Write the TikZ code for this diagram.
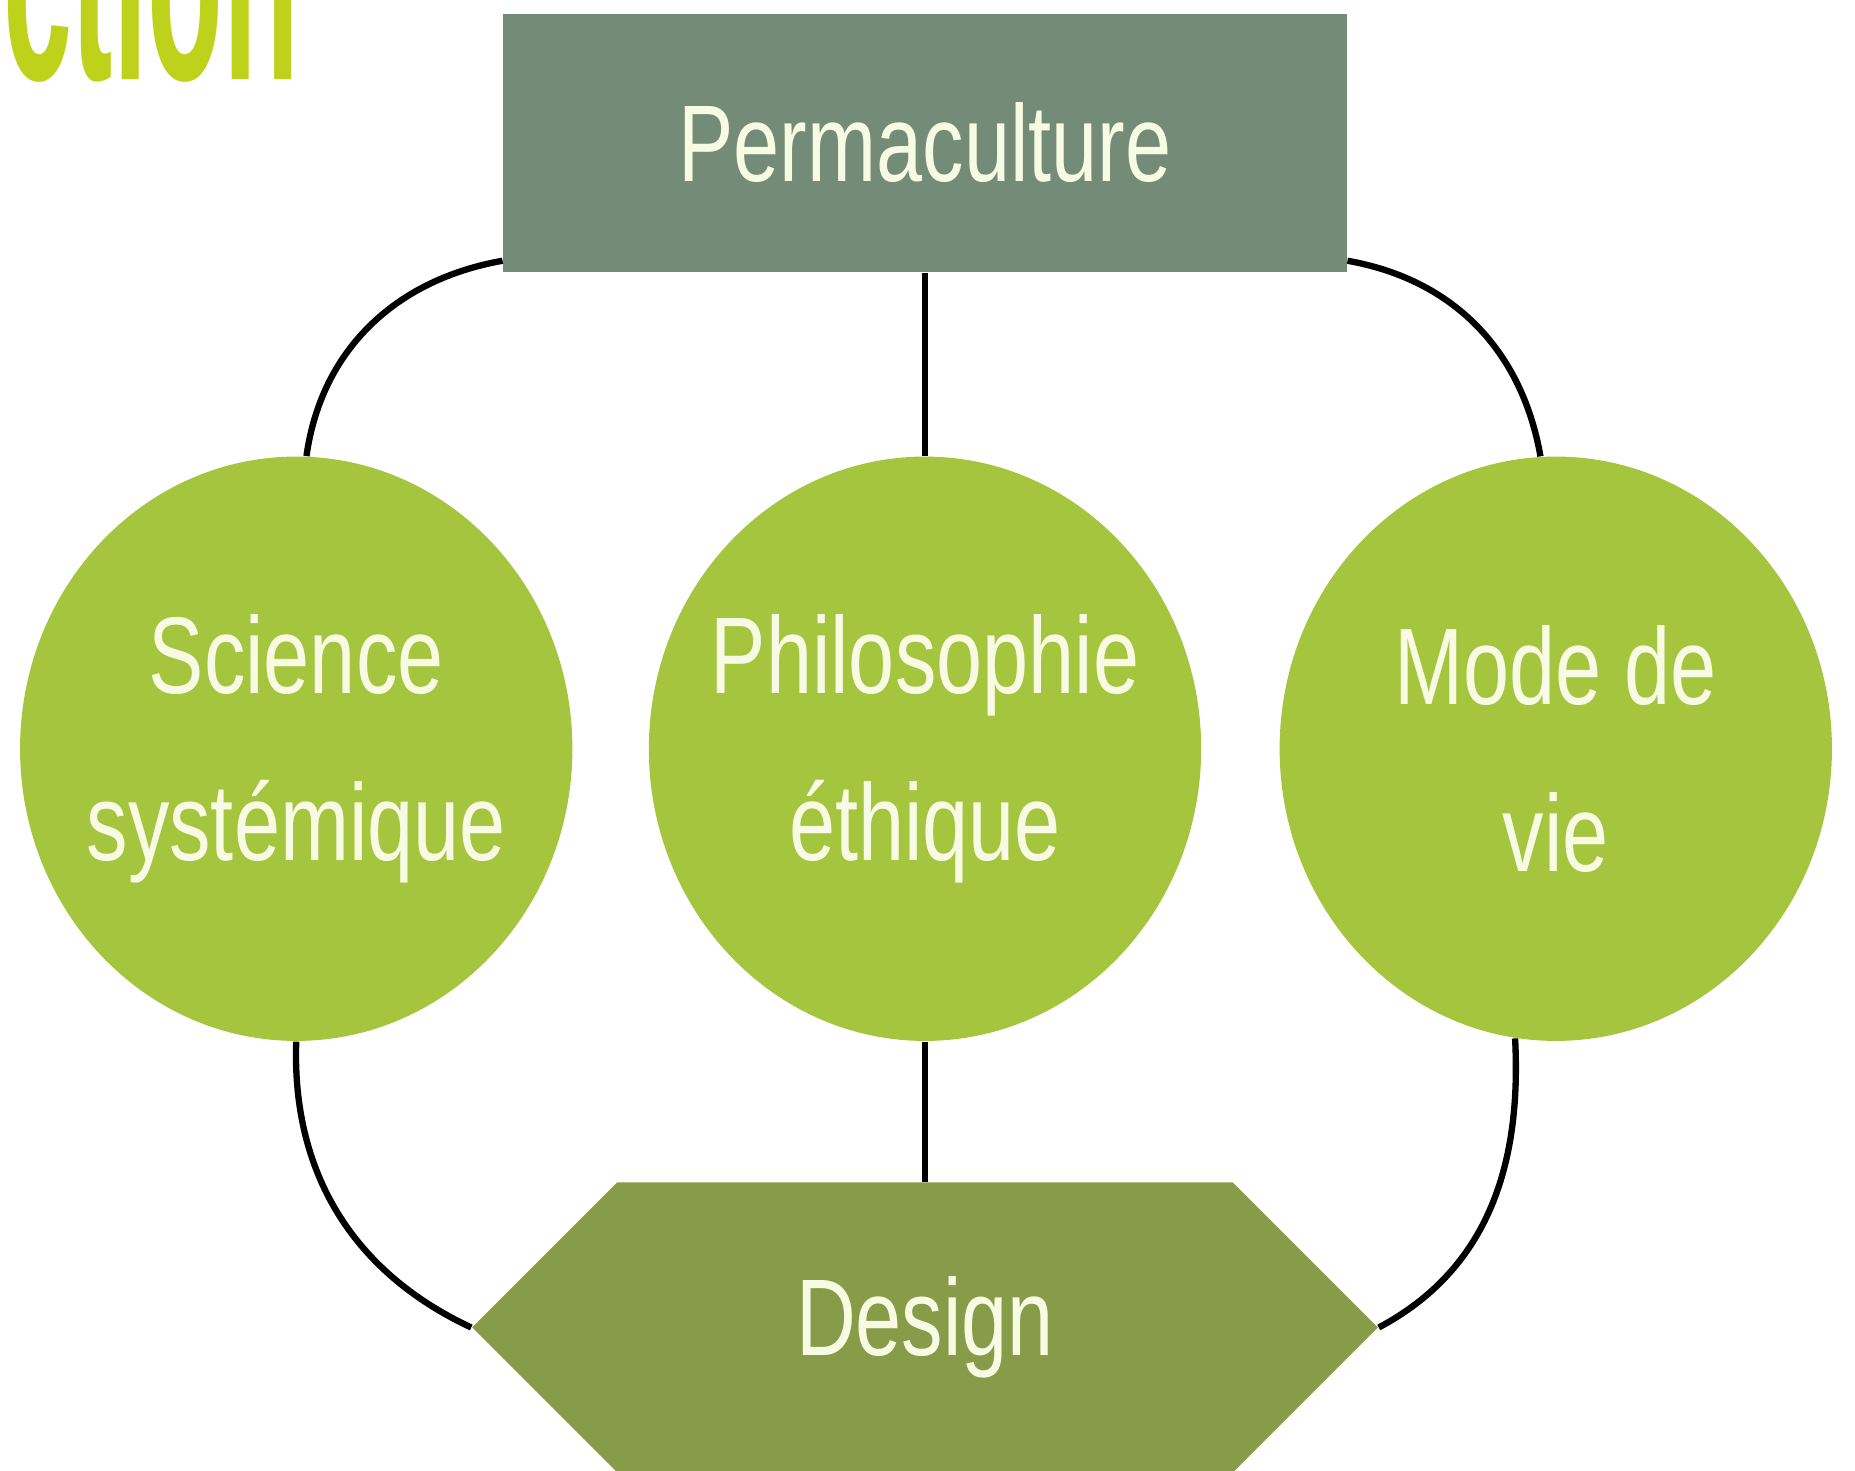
\documentclass[tikz,border=0pt]{standalone}
\usepackage{fontspec}
\setmainfont{Liberation Sans}[FakeStretch=0.76]
\newfontfamily\headfont{Liberation Sans}[FakeStretch=0.42]
\usepackage{tikz}
\usetikzlibrary{shapes.geometric,shapes.symbols,positioning,calc}
\definecolor{sage}{RGB}{115,139,119}
\definecolor{lime}{RGB}{164,197,61}
\definecolor{hexgreen}{RGB}{135,155,72}
\definecolor{cream}{RGB}{248,251,227}
\definecolor{titlegreen}{RGB}{190,209,27}
\tikzstyle{headline} = [text=titlegreen, inner sep=0pt, font={\headfont\bfseries\fontsize{84}{84}\selectfont}]
\tikzstyle{topbox} = [rectangle, fill=sage, text=cream, minimum width=8.43cm, minimum height=2.58cm, font={\fontsize{31}{46.7}\selectfont}]
\tikzstyle{bubble} = [ellipse, fill=lime, minimum width=5.52cm, minimum height=5.84cm, inner sep=0pt]
\tikzstyle{bubbletext} = [text=cream, align=center, font={\fontsize{31}{47.5}\selectfont}]
\tikzstyle{hexa} = [signal, signal to=west and east, signal pointer angle=90, fill=hexgreen, text=cream, minimum width=9.05cm, minimum height=2.9cm, inner sep=0pt, font={\fontsize{31}{46.7}\selectfont}]
\tikzstyle{link} = [draw, black, line width=1.8pt]

\begin{document}
\begin{tikzpicture}[x=0.01cm, y=0.01cm]
\useasboundingbox (0,0) rectangle (1855,1470);
\clip (0,0) rectangle (1855,1470);

% title, cut by the top edge
\node[headline, anchor=base east] (title) at (300,1390) {Introduction};

% shapes =============================
\node[topbox] (perma) at (925,1327) {Permaculture};
\node[bubble, below=1.83cm of perma] (philo) {};
\node[bubble, left=0.75cm of philo] (sci) {};
\node[bubble, right=0.77cm of philo] (vie) {};
\node[hexa, below=1.4cm of philo] (design) {Design};

% texts in the bubbles
\node[bubbletext] (scitext) at (sci) {Science\\systémique};
\node[bubbletext] (philotext) at (philo) {Philosophie\\éthique};
\node[bubbletext] (vietext) at (vie) {Mode de\\vie};

% edges
\path[link] ($(perma.south west)+(0,12)$) to[out=190, in=82] (sci.88);
\path[link] (perma.south) -- (philo.north);
\path[link] ($(perma.south east)+(0,12)$) to[out=-10, in=100] (vie.93);

\path[link] (sci.south) to[out=268, in=155] (design.west);
\path[link] (philo.south) -- (design.north);
\path[link] (vie.262) to[out=273, in=28] (design.east);

\end{tikzpicture}
\end{document}
